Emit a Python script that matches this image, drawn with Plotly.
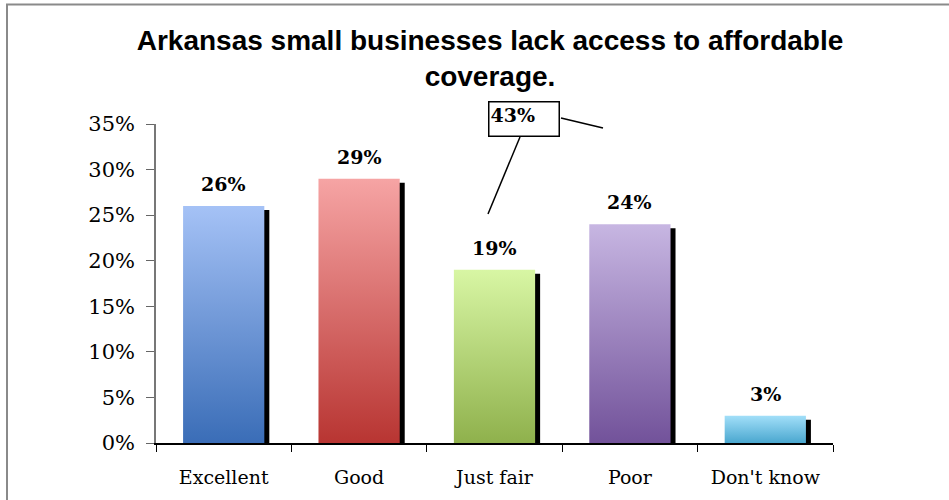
import plotly.graph_objects as go

categories = ["Excellent", "Good", "Just fair", "Poor", "Don't know"]
values = [26, 29, 19, 24, 3]
value_labels = ["26%", "29%", "19%", "24%", "3%"]
y_ticks = [0, 5, 10, 15, 20, 25, 30, 35]
y_tick_labels = ["0%", "5%", "10%", "15%", "20%", "25%", "30%", "35%"]
top_colors = ["#a5c2f6", "#f6a4a4", "#d8f6a4", "#c7b6e2", "#a2dff9"]
bottom_colors = ["#3a6db7", "#b83532", "#8fb14c", "#72529a", "#4aa7cf"]
title_text = "Arkansas small businesses lack access to affordable<br>coverage."
callout_text = "43%"

W, H = 949, 500
L, R, T, B = 156, 116, 124, 57
plot_w = W - L - R
plot_h = H - T - B
n = len(categories)
bar_half = 0.3
px_x = n / plot_w          # data units per pixel (x)
px_y = 35 / plot_h         # data units per pixel (y)
sdx, sdy = 5 * px_x, 4 * px_y


def pxx(p):
    return (p - L) / plot_w


def pxy(p):
    return (H - B - p) / plot_h


fig = go.Figure()

# shadows
for i, v in enumerate(values):
    x0, x1 = i - bar_half + sdx, i + bar_half + sdx
    y1 = max(v - sdy, 0)
    fig.add_trace(go.Scatter(
        x=[x0, x1, x1, x0, x0], y=[0, 0, y1, y1, 0],
        fill="toself", fillcolor="black", mode="lines",
        line=dict(width=0, color="black"), hoverinfo="skip", showlegend=False))

# gradient bars
for i, v in enumerate(values):
    x0, x1 = i - bar_half, i + bar_half
    fig.add_trace(go.Scatter(
        x=[x0, x1, x1, x0, x0], y=[0, 0, v, v, 0],
        fill="toself", mode="lines",
        fillgradient=dict(type="vertical",
                          colorscale=[[0, bottom_colors[i]], [1, top_colors[i]]]),
        line=dict(width=0, color=top_colors[i]),
        name=categories[i], hoverinfo="skip", showlegend=False))

# value labels
for i, v in enumerate(values):
    fig.add_annotation(x=i, y=v, text=value_labels[i], showarrow=False,
                       yanchor="bottom", yshift=9,
                       font=dict(family="DejaVu Serif", size=19, color="black", weight="bold"))

# callout box
fig.add_annotation(xref="paper", yref="paper", x=pxx(488), y=pxy(101),
                   xanchor="left", yanchor="top", text="<b>" + callout_text + "</b>",
                   showarrow=False, width=67, height=31, align="left", valign="top",
                   bordercolor="black", borderwidth=1.5, borderpad=1, bgcolor="white",
                   font=dict(family="DejaVu Serif", size=19, color="black"))
fig.add_shape(type="line", xref="paper", yref="paper",
              x0=pxx(520), y0=pxy(137), x1=pxx(488), y1=pxy(214),
              line=dict(color="black", width=1.5))
fig.add_shape(type="line", xref="paper", yref="paper",
              x0=pxx(561), y0=pxy(118), x1=pxx(603), y1=pxy(128),
              line=dict(color="black", width=1.5))

# outer frame
fig.add_shape(type="rect", xref="paper", yref="paper",
              x0=pxx(7), y0=pxy(505), x1=pxx(960), y1=pxy(4.5),
              line=dict(color="#8a8a8a", width=2), fillcolor="rgba(0,0,0,0)")

fig.update_layout(
    width=W, height=H,
    margin=dict(l=L, r=R, t=T, b=B, pad=0),
    paper_bgcolor="white", plot_bgcolor="white",
    title=dict(text="<b>" + title_text + "</b>", x=pxx(490), xref="paper",
               xanchor="center", y=1 - 50 / H, yanchor="top",
               font=dict(family="Liberation Sans", size=28, color="black")),
    xaxis=dict(range=[-0.5, n - 0.5], tickmode="array",
               tickvals=list(range(n)), ticktext=categories, ticks="",
               showline=True, linecolor="black", linewidth=1.5,
               showgrid=False, zeroline=False, ticklabelstandoff=16,
               tickfont=dict(family="DejaVu Serif", size=19, color="black"),
               minor=dict(tickmode="array", tickvals=[k - 0.5 for k in range(n + 1)],
                          ticks="outside", ticklen=7, tickcolor="black", tickwidth=1,
                          showgrid=False)),
    yaxis=dict(range=[0, 35], tickmode="array", tickvals=y_ticks,
               ticktext=y_tick_labels, ticks="outside", ticklen=8,
               tickcolor="#666666", showline=True, linecolor="#777777", linewidth=1.5,
               showgrid=False, zeroline=False, ticklabelstandoff=7,
               tickfont=dict(family="DejaVu Serif", size=21, color="black")),
)

fig.write_html("out.html", config={"displayModeBar": False},
               post_script="document.body.style.margin='0';")
